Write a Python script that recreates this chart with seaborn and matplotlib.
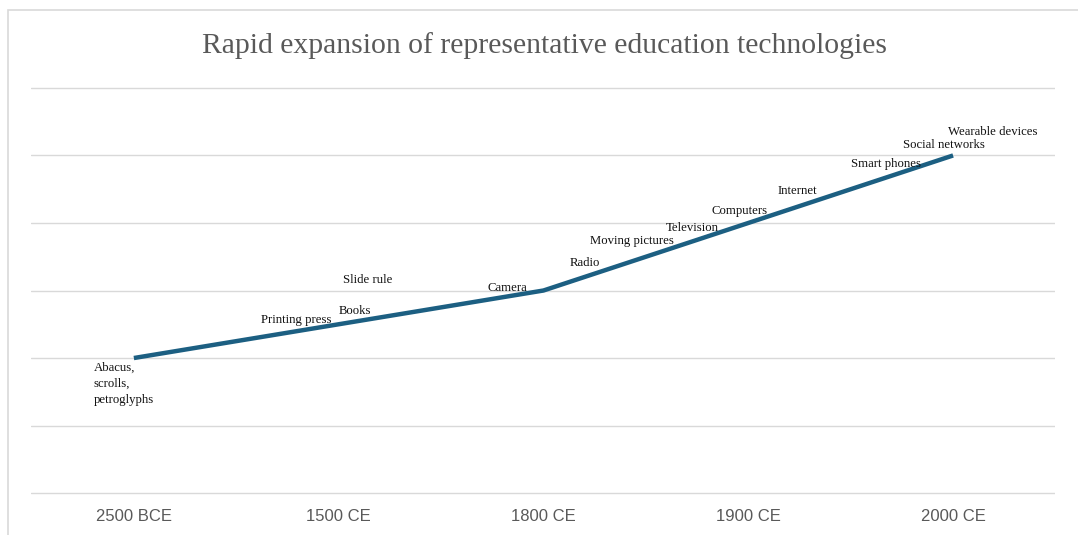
import pandas as pd
import matplotlib.pyplot as plt
import seaborn as sns
from matplotlib.patches import Rectangle

# Data
eras = ["2500 BCE", "1500 CE", "1800 CE", "1900 CE", "2000 CE"]
level = [2.0, 2.5, 3.0, 4.0, 5.0]

labels = ["Abacus,\nscrolls,\npetroglyphs", "Printing press", "Books", "Slide rule",
          "Camera", "Radio", "Moving pictures", "Television", "Computers",
          "Internet", "Smart phones", "Social networks", "Wearable devices"]
label_x = [-0.195, 0.623, 1.002, 1.022, 1.727, 2.127, 2.229, 2.599, 2.822,
           3.143, 3.504, 3.757, 3.976]
label_y = [1.95, 2.56, 2.69, 3.16, 3.04, 3.40, 3.74, 3.93, 4.18,
           4.47, 4.87, 5.16, 5.35]

df = pd.DataFrame({"pos": range(len(eras)), "level": level})

sns.set_theme(style="white")

fig = plt.figure(figsize=(10.78, 5.35), dpi=100)
ax = fig.add_axes([0.0292, 0.0746, 0.9499, 0.7648])

sns.lineplot(data=df, x="pos", y="level", ax=ax, color="#1c5f82",
             linewidth=3.2, solid_capstyle="butt")

for txt, x, y in zip(labels, label_x, label_y):
    va = "top" if "\n" in txt else "center"
    ax.text(x, y, txt, ha="left", va=va, fontsize=9.2, color="#111111",
            family="Liberation Serif", linespacing=1.5)

ax.set_xlim(-0.5, 4.5)
ax.set_ylim(-0.03, 6.03)
ax.set_yticks(range(0, 7))
ax.set_yticklabels([])
ax.tick_params(axis="y", length=0)
ax.set_xticks(range(len(eras)))
ax.set_xticklabels(eras, fontsize=12, color="#595959", family="Liberation Sans")
ax.tick_params(axis="x", length=0, pad=10)
ax.grid(axis="y", color="#d9d9d9", linewidth=1)
ax.set_xlabel("")
ax.set_ylabel("")
for s in ax.spines.values():
    s.set_visible(False)

fig.text(0.505, 0.914, "Rapid expansion of representative education technologies",
         ha="center", va="center", fontsize=21.3, color="#595959",
         family="Liberation Serif")

# chart border
fig.patches.append(Rectangle((8 / 1078, -0.05), 1.1, (535 - 10) / 535 + 0.05,
                             transform=fig.transFigure, fill=False,
                             edgecolor="#d9d9d9", linewidth=1.2))

fig.savefig("out.png", dpi=100)
